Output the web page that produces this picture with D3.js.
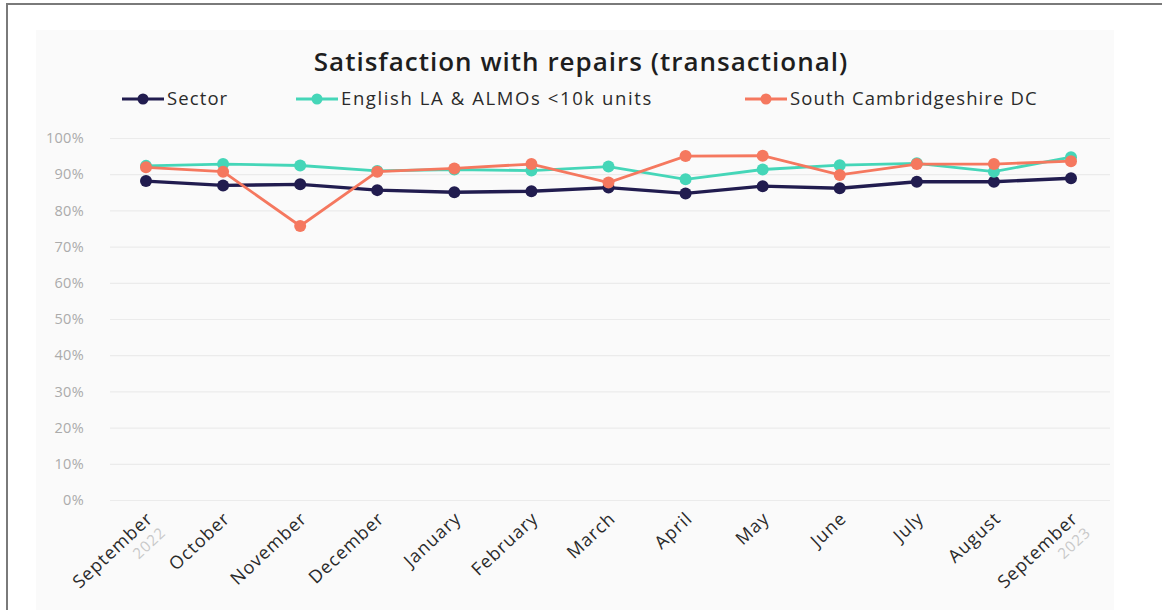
<!DOCTYPE html>
<html>
<head>
<meta charset="utf-8">
<script src="https://cdn.jsdelivr.net/npm/d3@7"></script>
<style>
  body { margin: 0; background: #fff; }
  svg { display: block; font-family: "Open Sans", sans-serif; }
</style>
</head>
<body>
<div class="plot"></div>
<script>
// chart data
var months = ["September", "October", "November", "December", "January", "February",
  "March", "April", "May", "June", "July", "August", "September"];
var years = ["2022", "", "", "", "", "", "", "", "", "", "", "", "2023"];
var yTicks = [0, 10, 20, 30, 40, 50, 60, 70, 80, 90, 100];

var sector = [88.1, 86.9, 87.2, 85.6, 85.0, 85.3, 86.3, 84.7, 86.7, 86.1, 87.9, 87.9, 88.9];
var englishLA = [92.3, 92.8, 92.4, 90.9, 91.3, 91.0, 92.1, 88.6, 91.3, 92.5, 93.0, 90.7, 94.7];
var southCambs = [91.9, 90.7, 75.7, 90.7, 91.6, 92.8, 87.7, 95.0, 95.1, 89.8, 92.8, 92.8, 93.6];

var seriesNames = ["Sector", "English LA & ALMOs <10k units", "South Cambridgeshire DC"];
var seriesValues = [sector, englishLA, southCambs];
var colors = ["#211c4f", "#45d6b8", "#f5785f"];

var W = 1162, H = 610;
var margin = { left: 110, right: 1110, top: 138, bottom: 500 };

var svg = d3.select(".plot")
  .append("svg")
  .attr("width", W)
  .attr("height", H);

// outer frame + light panel
svg.append("rect")
  .attr("x", 7).attr("y", 4)
  .attr("width", W).attr("height", H)
  .style("fill", "#fff")
  .style("stroke", "#7a7a7a")
  .style("stroke-width", 2);

svg.append("rect")
  .attr("x", 36).attr("y", 30)
  .attr("width", 1078).attr("height", 590)
  .style("fill", "#fafafa");

var x = d3.scalePoint()
  .domain(d3.range(months.length))
  .range([146, 1071]);

var y = d3.scaleLinear()
  .domain([0, 100])
  .range([margin.bottom, margin.top]);

// gridlines
svg.append("g")
  .attr("transform", "translate(" + margin.left + ",0)")
  .call(d3.axisLeft(y).tickValues(yTicks).tickSize(-(margin.right - margin.left)).tickFormat(""))
  .call(g => g.select(".domain").remove())
  .call(g => g.selectAll("line").style("stroke", "#ebebeb").style("stroke-width", 1.2));

// y axis labels
svg.append("g")
  .attr("transform", "translate(" + margin.left + ",0)")
  .call(d3.axisLeft(y).tickValues(yTicks).tickSize(0).tickPadding(26).tickFormat(d => d + "%"))
  .call(g => g.select(".domain").remove())
  .call(g => g.selectAll("text")
    .style("font-family", "'Open Sans', sans-serif")
    .style("font-size", "14.5px")
    .style("letter-spacing", "0.3px")
    .style("fill", "#ababab"));

// x axis labels (rotated)
var xAxis = svg.append("g")
  .attr("transform", "translate(0," + margin.bottom + ")")
  .call(d3.axisBottom(x).tickSize(0).tickFormat(""));
xAxis.select(".domain").remove();

var labels = svg.append("g")
  .selectAll("text")
  .data(months)
  .join("text")
  .attr("transform", (d, i) => "translate(" + (x(i) + 8) + "," + (margin.bottom + 20) + ") rotate(-43)")
  .style("text-anchor", "end")
  .style("font-size", "18px")
  .style("letter-spacing", "1px")
  .style("fill", "#2a2a2a");

labels.append("tspan")
  .attr("x", 0)
  .text(d => d);

labels.append("tspan")
  .attr("x", 0)
  .attr("dy", "1.25em")
  .style("fill", "#c8c8c8")
  .style("font-size", "15px")
  .text((d, i) => years[i]);

// lines
var line = d3.line()
  .x((d, i) => x(i))
  .y(d => y(d));

seriesValues.forEach(function (vals, s) {
  svg.append("path")
    .datum(vals)
    .attr("d", line)
    .style("fill", "none")
    .style("stroke", colors[s])
    .style("stroke-width", s == 0 ? 3.4 : 2.8);

  svg.append("g")
    .selectAll("circle")
    .data(vals)
    .join("circle")
    .attr("cx", (d, i) => x(i))
    .attr("cy", d => y(d))
    .attr("r", 6)
    .style("fill", colors[s]);
});

// title
svg.append("text")
  .attr("x", 581)
  .attr("y", 71)
  .style("text-anchor", "middle")
  .style("font-size", "26px")
  .style("font-weight", 600)
  .style("letter-spacing", "1px")
  .style("fill", "#1e1e1e")
  .text("Satisfaction with repairs (transactional)");

// legend
var legendX = [122, 296, 745];
var legend = svg.append("g");
seriesNames.forEach(function (name, s) {
  var g = legend.append("g").attr("transform", "translate(" + legendX[s] + ",99)");
  g.append("line")
    .attr("x1", 0).attr("x2", 42)
    .style("stroke", colors[s])
    .style("stroke-width", 3);
  g.append("circle")
    .attr("cx", 21).attr("r", 5.5)
    .style("fill", colors[s]);
  g.append("text")
    .attr("x", 45)
    .attr("dy", "0.35em")
    .style("font-size", "18.5px")
    .style("letter-spacing", s == 1 ? "1.6px" : "1.1px")
    .style("fill", "#2a2a2a")
    .text(name);
});
</script>
</body>
</html>
